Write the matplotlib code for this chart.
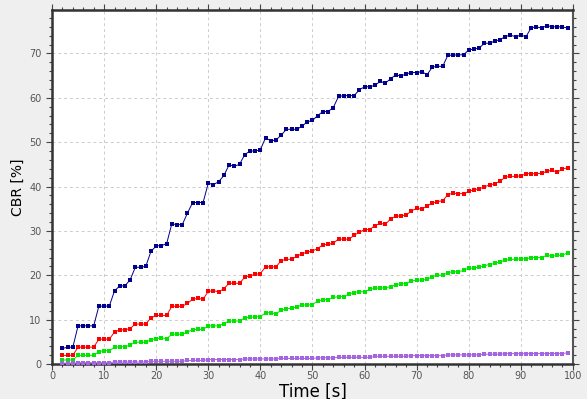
import numpy as np
import matplotlib
matplotlib.use('Agg')
import matplotlib.pyplot as plt
from matplotlib.ticker import MultipleLocator

t = np.arange(2, 100)

cbr_blue = [3.5, 3.8, 3.8, 8.6, 8.6, 8.6, 8.6, 13.05, 13.05, 13.05,
            16.5, 17.6, 17.6, 19.0, 21.8, 21.8, 22.0, 25.4, 26.6, 26.7,
            27.1, 31.6, 31.4, 31.4, 34.0, 36.4, 36.4, 36.4, 40.75, 40.45,
            41.1, 42.5, 44.9, 44.6, 45.0, 47.2, 48.0, 48.0, 48.3, 51.0,
            50.3, 50.5, 51.6, 52.9, 52.9, 52.9, 53.6, 54.6, 54.9, 56.0,
            56.9, 56.9, 57.8, 60.3, 60.5, 60.5, 60.5, 61.8, 62.5, 62.5,
            62.8, 63.7, 63.3, 64.3, 65.2, 64.9, 65.4, 65.7, 65.7, 65.9,
            65.2, 66.9, 67.1, 67.1, 69.6, 69.6, 69.7, 69.7, 70.8, 71.0,
            71.2, 72.3, 72.3, 72.8, 73.1, 73.8, 74.1, 73.8, 74.1, 73.8,
            75.8, 76.0, 75.7, 76.3, 76.0, 76.0, 76.0, 75.7]

cbr_red = [1.95, 1.95, 1.95, 3.8, 3.8, 3.8, 3.8, 5.6, 5.6, 5.6,
           7.2, 7.7, 7.7, 8.0, 9.0, 9.0, 9.0, 10.4, 10.95, 10.95,
           10.95, 13.0, 13.0, 13.0, 13.65, 14.6, 14.8, 14.6, 16.35, 16.55,
           16.25, 17.0, 18.2, 18.2, 18.2, 19.55, 19.9, 20.2, 20.4, 21.9,
           21.9, 21.9, 23.3, 23.6, 23.6, 24.3, 24.85, 25.2, 25.5, 26.0,
           26.9, 26.95, 27.25, 28.15, 28.15, 28.15, 29.0, 29.7, 30.3, 30.3,
           31.2, 31.7, 31.5, 32.7, 33.3, 33.4, 33.6, 34.5, 35.1, 34.9,
           35.6, 36.3, 36.6, 36.8, 38.2, 38.5, 38.4, 38.4, 38.9, 39.3,
           39.5, 39.9, 40.4, 40.6, 41.2, 42.1, 42.3, 42.3, 42.4, 42.9,
           42.9, 42.9, 43.0, 43.4, 43.7, 43.2, 44.0, 44.2]

cbr_green = [0.9, 0.9, 0.9, 1.95, 1.95, 1.95, 1.95, 2.8, 3.0, 3.0,
             3.75, 3.9, 3.9, 4.3, 4.9, 4.9, 4.9, 5.5, 5.7, 5.9,
             5.7, 6.7, 6.7, 6.7, 7.2, 7.75, 7.8, 7.8, 8.6, 8.6,
             8.6, 9.1, 9.7, 9.7, 9.7, 10.4, 10.6, 10.6, 10.7, 11.55,
             11.55, 11.3, 12.15, 12.45, 12.6, 12.9, 13.3, 13.3, 13.4, 14.2,
             14.5, 14.5, 15.0, 15.2, 15.2, 15.8, 16.1, 16.3, 16.3, 16.8,
             17.1, 17.1, 17.2, 17.4, 17.9, 18.1, 18.1, 18.7, 18.9, 18.9,
             19.1, 19.7, 20.0, 20.0, 20.6, 20.8, 20.8, 21.1, 21.6, 21.6,
             21.85, 22.2, 22.4, 22.7, 23.0, 23.4, 23.6, 23.6, 23.7, 23.7,
             24.0, 24.0, 24.0, 24.5, 24.3, 24.5, 24.5, 25.1]

cbr_purple = [0.2, 0.2, 0.2, 0.3, 0.3, 0.3, 0.3, 0.3, 0.3, 0.3,
              0.45, 0.45, 0.45, 0.45, 0.45, 0.45, 0.45, 0.6, 0.6, 0.6,
              0.6, 0.6, 0.6, 0.6, 0.8, 0.8, 0.8, 0.8, 1.0, 1.0,
              1.0, 1.0, 1.0, 1.0, 1.0, 1.15, 1.15, 1.15, 1.15, 1.15,
              1.15, 1.15, 1.25, 1.25, 1.25, 1.25, 1.25, 1.25, 1.25, 1.4,
              1.4, 1.4, 1.4, 1.5, 1.5, 1.5, 1.5, 1.5, 1.5, 1.5,
              1.73, 1.73, 1.73, 1.73, 1.73, 1.73, 1.73, 1.9, 1.9, 1.9,
              1.9, 1.9, 1.9, 1.9, 2.05, 2.05, 2.05, 2.05, 2.05, 2.05,
              2.05, 2.2, 2.2, 2.2, 2.2, 2.35, 2.35, 2.35, 2.35, 2.35,
              2.35, 2.35, 2.35, 2.35, 2.35, 2.35, 2.35, 2.55]

series = [(cbr_blue, '#00008b'), (cbr_red, '#ff0000'),
          (cbr_green, '#00e600'), (cbr_purple, '#a565e0')]

fig = plt.figure(figsize=(5.87, 3.99), dpi=100, facecolor='#efefef')
ax = fig.add_axes([0.0886, 0.0877, 0.8874, 0.8873])
ax.set_facecolor('white')

for vals, col in series:
    ax.plot(t, vals, color=col, lw=0.7, marker='s', ms=3.1, mew=0,
            mfc=col, zorder=3)

ax.set_xlim(0, 100)
ax.set_ylim(0, 79.8)
ax.xaxis.set_major_locator(MultipleLocator(10))
ax.xaxis.set_minor_locator(MultipleLocator(2))
ax.yaxis.set_major_locator(MultipleLocator(10))
ax.yaxis.set_minor_locator(MultipleLocator(2))
ax.grid(True, which='major', color='#cccccc', ls=(0, (3, 3)), lw=0.7)

ax.tick_params(which='both', direction='out', top=True, right=True,
               labelsize=7, labelcolor='#555555', color='#444444', width=0.8)
ax.tick_params(which='major', length=4)
ax.tick_params(which='minor', length=2)
ax.tick_params(axis='x', pad=1)

for side in ['left', 'bottom', 'top']:
    ax.spines[side].set_linewidth(1.8)
    ax.spines[side].set_color('#333333')
ax.spines['right'].set_linewidth(1.5)
ax.spines['right'].set_color('#555555')

ax.set_xlabel('Time [s]', fontsize=12)
ax.xaxis.set_label_coords(0.5, -0.052)
ax.set_ylabel('CBR [%]', fontsize=10, labelpad=3)

fig.savefig('out.png', dpi=100, facecolor=fig.get_facecolor())
